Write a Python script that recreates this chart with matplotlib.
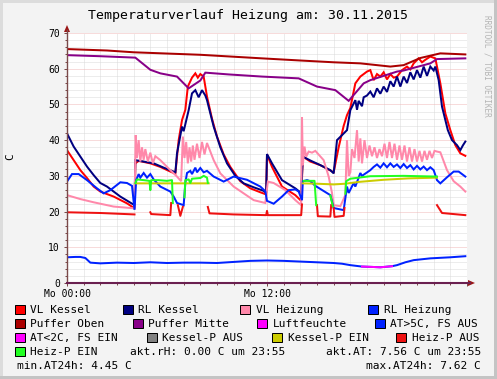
import matplotlib
matplotlib.use('Agg')
import matplotlib.pyplot as plt
import numpy as np
from matplotlib.patches import Rectangle, Polygon
from matplotlib.lines import Line2D

# ---------------- data (hour of day, value in C) ----------------
title = "Temperaturverlauf Heizung am: 30.11.2015"
x_tick_hours = [0, 12, 24]
x_tick_labels = ["Mo 00:00", "Mo 12:00", ""]
y_ticks = [0, 10, 20, 30, 40, 50, 60, 70]

vl_kessel = [(0, 37.2), (0.4, 34.4), (0.8, 31.6), (1.2, 29.4), (1.6, 27.0), (2.0, 25.6), (2.8, 24.2),
             (3.6, 22.3), (4.05, 20.9), (4.1, 33.5), (4.3, 34.2), (5.0, 33.5), (5.6, 32.5), (6.2, 31.2),
             (6.5, 30.6), (6.7, 40.0), (6.9, 45.6), (7.1, 48.5), (7.25, 55.0), (7.5, 57.5), (7.7, 58.7),
             (7.85, 57.5), (8.0, 58.5), (8.2, 57.8), (8.4, 52.2), (8.7, 46.0), (9.0, 41.0), (9.4, 36.0),
             (9.8, 32.5), (10.4, 28.5), (11.0, 26.5), (11.6, 25.4), (11.95, 24.8), (12.0, 36.0),
             (12.3, 32.5), (12.9, 27.0), (13.7, 24.6), (14.05, 23.0), (14.15, 35.4), (14.6, 34.0),
             (15.2, 33.0), (15.8, 31.5), (16.0, 31.0), (16.3, 38.0), (16.6, 44.0), (16.8, 47.0),
             (17.0, 49.0), (17.3, 55.9), (17.6, 57.8), (17.8, 58.5), (18.0, 59.2), (18.2, 59.6),
             (18.4, 56.8), (18.6, 58.5), (18.8, 57.8), (19.0, 59.0), (19.2, 57.0), (19.4, 58.5),
             (19.6, 57.5), (19.8, 57.8), (20.1, 59.6), (20.4, 60.6), (20.6, 59.8), (20.8, 61.5),
             (21.1, 62.9), (21.3, 61.8), (21.5, 62.5), (21.8, 63.4), (22.1, 62.9), (22.2, 60.6),
             (22.4, 55.9), (22.7, 47.5), (23.0, 42.8), (23.3, 38.6), (23.6, 36.3), (23.9, 35.6)]

rl_kessel = [(0, 41.9), (0.4, 38.2), (0.8, 35.4), (1.2, 32.6), (1.6, 30.2), (2.0, 28.0), (2.4, 27.0),
             (3.2, 24.2), (4.05, 21.8), (4.1, 34.4), (4.6, 34.0), (5.2, 33.5), (5.8, 32.3), (6.4, 31.2),
             (6.5, 30.8), (6.6, 36.3), (6.9, 43.8), (7.0, 42.5), (7.3, 48.4), (7.5, 53.1), (7.7, 54.0),
             (7.9, 52.0), (8.1, 54.0), (8.3, 52.5), (8.4, 51.2), (8.8, 43.8), (9.2, 38.0), (9.6, 33.5),
             (10.1, 30.0), (10.6, 27.9), (11.2, 26.8), (11.8, 25.8), (11.95, 25.2), (12.0, 36.1),
             (12.3, 33.5), (12.9, 28.8), (13.7, 26.5), (14.05, 25.2), (14.15, 35.4), (14.6, 34.3),
             (15.2, 33.0), (15.8, 31.6), (16.0, 30.7), (16.2, 40.0), (16.8, 42.8), (17.0, 48.4),
             (17.3, 51.2), (17.4, 48.5), (17.5, 51.0), (17.7, 49.5), (17.8, 52.0), (18.0, 52.5),
             (18.2, 53.6), (18.4, 52.0), (18.6, 54.5), (18.8, 53.0), (19.0, 55.0), (19.2, 53.5),
             (19.4, 56.5), (19.6, 55.0), (19.8, 57.8), (20.0, 55.0), (20.2, 57.8), (20.4, 56.0),
             (20.6, 59.0), (20.8, 57.0), (21.0, 59.6), (21.2, 57.5), (21.4, 60.6), (21.6, 58.0),
             (21.8, 60.6), (22.0, 59.5), (22.1, 60.6), (22.3, 56.8), (22.5, 49.4), (22.85, 42.8),
             (23.1, 40.0), (23.4, 38.6), (23.6, 37.2), (23.75, 38.5), (23.9, 39.6)]

vl_heizung = [(0, 24.6), (0.8, 23.5), (1.6, 22.6), (2.8, 21.4), (4.05, 20.9), (4.12, 41.4), (4.2, 35.0),
              (4.3, 40.0), (4.4, 34.0), (4.5, 38.0), (4.6, 34.5), (4.7, 37.5), (4.85, 34.0), (5.0, 36.5),
              (5.15, 33.5), (5.3, 35.5), (5.6, 34.4), (6.2, 31.6), (6.6, 29.8), (6.85, 28.5), (6.95, 41.0),
              (7.05, 35.0), (7.15, 39.5), (7.25, 33.5), (7.35, 38.0), (7.45, 34.0), (7.55, 38.5),
              (7.65, 34.5), (7.8, 39.0), (7.95, 35.0), (8.1, 39.5), (8.25, 36.0), (8.4, 39.2), (8.8, 34.4),
              (9.2, 30.7), (10.0, 27.0), (11.2, 23.2), (11.9, 22.4), (12.05, 28.4), (12.4, 28.0),
              (13.1, 26.0), (13.7, 23.2), (14.05, 21.8), (14.1, 46.4), (14.15, 33.0), (14.25, 38.2),
              (14.35, 35.4), (14.5, 36.8), (14.7, 36.5), (14.9, 37.0), (15.4, 34.4), (15.7, 29.8),
              (15.9, 25.2), (16.0, 21.8), (16.4, 21.5), (16.7, 24.6), (16.8, 40.0), (16.9, 30.0),
              (17.0, 31.0), (17.1, 37.5), (17.25, 35.0), (17.4, 42.8), (17.5, 34.0), (17.6, 40.5),
              (17.7, 33.5), (17.85, 40.0), (18.0, 35.0), (18.15, 38.5), (18.3, 35.5), (18.45, 38.0),
              (18.6, 35.0), (18.75, 37.5), (18.9, 35.5), (19.05, 39.0), (19.2, 35.0), (19.35, 39.5),
              (19.5, 35.0), (19.65, 39.0), (19.8, 34.5), (19.95, 38.5), (20.1, 34.5), (20.25, 38.5),
              (20.4, 34.0), (20.55, 38.0), (20.7, 34.0), (20.85, 37.5), (21.0, 34.0), (21.15, 37.0),
              (21.3, 34.0), (21.45, 37.0), (21.6, 34.5), (21.75, 37.0), (21.9, 35.0), (22.05, 37.0),
              (22.2, 36.8), (22.4, 36.6), (22.8, 31.6), (23.2, 28.5), (23.6, 27.0), (23.9, 25.6)]

rl_heizung = [(0, 28.4), (0.3, 30.5), (0.7, 30.5), (1.2, 28.8), (1.8, 26.5), (2.2, 25.1), (2.6, 26.0),
              (3.2, 28.2), (3.6, 28.0), (3.9, 27.2), (4.05, 20.5), (4.15, 28.8), (4.3, 30.5), (4.4, 29.5),
              (4.6, 30.8), (4.8, 29.5), (5.0, 30.5), (5.2, 29.0), (5.6, 27.0), (6.2, 25.6), (6.4, 24.2),
              (6.6, 22.4), (7.0, 21.8), (7.1, 28.0), (7.2, 30.8), (7.4, 31.4), (7.5, 30.5), (7.7, 32.3),
              (7.8, 31.0), (8.0, 32.2), (8.2, 31.0), (8.4, 31.4), (8.8, 29.8), (9.4, 28.4), (10.0, 29.8),
              (10.8, 28.9), (11.6, 27.0), (11.9, 25.7), (12.0, 23.0), (12.4, 22.2), (12.9, 24.2),
              (13.3, 26.0), (13.7, 26.2), (13.9, 25.6), (14.1, 23.2), (14.15, 28.5), (14.4, 28.8),
              (14.6, 28.5), (14.9, 27.2), (15.8, 24.6), (16.0, 21.0), (16.6, 20.4), (16.8, 27.0),
              (16.9, 25.2), (17.2, 28.0), (17.3, 27.0), (17.6, 30.8), (17.7, 30.0), (18.2, 31.6),
              (18.4, 32.5), (18.6, 33.2), (18.8, 32.3), (19.0, 33.5), (19.2, 32.4), (19.4, 33.5),
              (19.6, 32.5), (19.8, 33.2), (20.0, 32.2), (20.2, 33.3), (20.4, 32.2), (20.6, 33.0),
              (20.8, 31.8), (21.0, 32.8), (21.2, 31.8), (21.4, 32.6), (21.6, 31.6), (21.8, 32.4),
              (22.0, 31.6), (22.2, 28.8), (22.4, 27.9), (22.8, 29.6), (23.2, 31.2), (23.5, 31.2),
              (23.9, 29.8)]

puffer_oben = [(0, 65.5), (2.4, 65.1), (4.0, 64.6), (8.0, 63.9), (11.7, 62.9), (14.0, 62.3), (16.0, 61.8),
               (17.6, 61.5), (19.4, 60.6), (20.2, 61.0), (21.2, 63.0), (22.4, 64.3), (23.9, 64.0)]

puffer_mitte = [(0, 63.8), (2.0, 63.5), (4.1, 63.1), (5.0, 59.7), (5.6, 58.7), (6.6, 57.8), (7.3, 54.5),
                (8.0, 56.7), (8.3, 58.9), (9.7, 58.4), (11.7, 57.8), (13.9, 57.3), (15.0, 55.0),
                (16.1, 54.0), (16.9, 51.0), (17.8, 55.9), (18.2, 56.8), (19.8, 59.2), (20.2, 59.5),
                (21.8, 61.5), (22.2, 62.7), (23.9, 62.9)]

luftfeuchte = [(0, 0.0), (23.92, 0.0)]

aussentemp = [(0, 7.2), (0.5, 7.3), (0.8, 7.3), (1.1, 7.0), (1.4, 5.7), (2.0, 5.5), (3.0, 5.7), (4.0, 5.6),
              (5.0, 5.8), (6.0, 5.6), (7.0, 5.7), (8.0, 5.7), (9.0, 5.6), (10.0, 5.9), (11.0, 6.2),
              (12.0, 6.3), (13.0, 6.2), (14.0, 6.0), (15.0, 5.8), (16.0, 5.6), (16.5, 5.4), (17.0, 5.0),
              (17.7, 4.6), (18.3, 4.5), (18.8, 4.4), (19.5, 4.7), (19.8, 5.0), (20.3, 5.8), (20.8, 6.4),
              (21.8, 6.9), (23.0, 7.2), (23.9, 7.5)]
at_low_limit = 4.75

kessel_p_ein = [(4.15, 27.9), (8.5, 27.9), None, (14.15, 27.9), (15.0, 27.8), (16.0, 27.6), (16.7, 27.8),
                (17.5, 28.3), (19.0, 28.9), (20.5, 29.3), (22.2, 29.5)]

heiz_p_aus = [(0, 19.8), (2.0, 19.6), (4.05, 19.2), None, (5.0, 19.8), (5.05, 19.3), (6.2, 19.0), (6.25, 22.4),
              None, (6.65, 21.8), (6.8, 18.8), (6.95, 21.3), None, (8.45, 21.3), (8.55, 19.5), (10.0, 19.2),
              (11.95, 19.0), (12.0, 20.2), (12.05, 19.0), (14.05, 19.0), (14.1, 22.0), None, (15.0, 21.8),
              (15.05, 18.7), (15.8, 18.6), (15.85, 21.8), None, (16.0, 21.0), (16.05, 18.5), (16.6, 18.8),
              (16.65, 21.0), None, (22.2, 21.8), (22.5, 19.6), (23.9, 19.0)]

heiz_p_ein = [(4.1, 28.0), (4.2, 29.0), (4.6, 28.8), (4.95, 28.6), (5.0, 26.0), (5.05, 28.8), (5.5, 28.8),
              (6.0, 28.6), (6.3, 28.8), (6.35, 22.4), None, (7.05, 24.0), (7.1, 28.8), (7.3, 29.0),
              (7.4, 28.0), (7.5, 29.2), (8.0, 29.4), (8.2, 30.0), (8.4, 29.5), (8.45, 28.0), None,
              (14.2, 28.6), (14.85, 28.6), (14.95, 21.8), None, (15.8, 24.5), (15.95, 21.5), None,
              (16.7, 25.0), (16.75, 28.5), (17.0, 29.2), (17.5, 29.5), (18.2, 29.9), (20.2, 30.0),
              (22.2, 29.8)]

legend_labels = ["VL Kessel", "RL Kessel", "VL Heizung", "RL Heizung",
                 "Puffer Oben", "Puffer Mitte", "Luftfeuchte", "AT>5C, FS AUS",
                 "AT<2C, FS EIN", "Kessel-P AUS", "Kessel-P EIN", "Heiz-P AUS",
                 "Heiz-P EIN"]
legend_colors = ["#FF0000", "#000080", "#FF88AA", "#0022FF",
                 "#AA0000", "#880088", "#FF00FF", "#0022FF",
                 "#FF00FF", "#808080", "#CCCC00", "#EE1111",
                 "#22FF22"]
info_rh = "akt.rH: 0.00 C um 23:55"
info_at = "akt.AT: 7.56 C um 23:55"
info_min = "min.AT24h: 4.45 C"
info_max = "max.AT24h: 7.62 C"

# ---------------- helpers ----------------
def unzip(pairs):
    xs, ys = [], []
    for p in pairs:
        if p is None:
            xs.append(np.nan); ys.append(np.nan)
        else:
            xs.append(p[0]); ys.append(p[1])
    return np.array(xs, float), np.array(ys, float)

W, H = 497, 379
MONO = 'DejaVu Sans Mono'
fig = plt.figure(figsize=(W / 100, H / 100), dpi=100)
fig.patch.set_facecolor('#F3F3F3')

def fx(px): return px / W
def fy(py): return 1 - py / H

# frame shading
fig.add_artist(Rectangle((0, 0), fx(3), 1, transform=fig.transFigure, facecolor='#DCDCDC', edgecolor='none'))
fig.add_artist(Rectangle((0, fy(3)), 1, 3 / H, transform=fig.transFigure, facecolor='#DCDCDC', edgecolor='none'))
fig.add_artist(Rectangle((fx(494), 0), 3 / W, 1, transform=fig.transFigure, facecolor='#C4C4C4', edgecolor='none'))
fig.add_artist(Rectangle((0, 0), 1, 3 / H, transform=fig.transFigure, facecolor='#C4C4C4', edgecolor='none'))

ax = fig.add_axes([fx(67), fy(283), 400 / W, 250 / H])
ax.set_facecolor('white')
ax.set_xlim(0, 24)
ax.set_ylim(0, 70)
for s in ax.spines.values():
    s.set_visible(False)

ax.set_xticks(x_tick_hours)
ax.set_xticklabels(x_tick_labels, fontfamily=MONO, fontsize=7)
ax.set_xticks(np.arange(0, 25, 1), minor=True)
ax.set_yticks(y_ticks)
ax.set_yticklabels([str(v) for v in y_ticks], fontfamily=MONO, fontsize=7)
ax.set_yticks(np.arange(0, 71, 2), minor=True)
ax.grid(which='minor', color='#DADADA', linestyle=(0, (1, 1)), linewidth=0.72)
ax.grid(which='major', color='#F0B8B8', linestyle=(0, (1, 1)), linewidth=0.72)
ax.set_axisbelow(True)
axis_col = '#7A4A4A'
ax.tick_params(axis='y', which='major', length=2, width=0.72, color=axis_col, pad=3.2)
ax.tick_params(axis='y', which='minor', length=1.2, width=0.72, color=axis_col)
ax.tick_params(axis='x', which='major', length=2, width=0.72, color=axis_col, pad=2.2)
ax.tick_params(axis='x', which='minor', length=1.2, width=0.72, color=axis_col)

LW = 1.44
series = [(vl_kessel, legend_colors[0]), (rl_kessel, legend_colors[1]),
          (vl_heizung, legend_colors[2]), (rl_heizung, legend_colors[3]),
          (puffer_oben, legend_colors[4]), (puffer_mitte, legend_colors[5]),
          (luftfeuchte, legend_colors[6])]
for pairs, col in series:
    xs, ys = unzip(pairs)
    ax.plot(xs, ys, color=col, lw=LW, solid_joinstyle='miter', zorder=3)

ath, atv = unzip(aussentemp)
ax.plot(ath, atv, color=legend_colors[7], lw=LW, zorder=3)
ax.plot(ath, np.where(atv < at_low_limit, atv, np.nan), color=legend_colors[8], lw=LW, zorder=3)

for pairs, col in [(kessel_p_ein, legend_colors[10]), (heiz_p_aus, legend_colors[11]),
                   (heiz_p_ein, legend_colors[12])]:
    xs, ys = unzip(pairs)
    ax.plot(xs, ys, color=col, lw=LW, zorder=3)

# axes lines and arrows
fig.add_artist(Line2D([fx(67), fx(67)], [fy(283), fy(30)], transform=fig.transFigure, color=axis_col, lw=1.0))
fig.add_artist(Line2D([fx(67), fx(470)], [fy(283), fy(283)], transform=fig.transFigure, color='#6A2050', lw=1.5))
fig.add_artist(Polygon([[fx(64), fy(32)], [fx(70), fy(32)], [fx(67), fy(25)]], closed=True,
                       transform=fig.transFigure, facecolor='#9A1515', edgecolor='none'))
fig.add_artist(Polygon([[fx(468), fy(280)], [fx(468), fy(286)], [fx(475), fy(283)]], closed=True,
                       transform=fig.transFigure, facecolor='#9A1515', edgecolor='none'))

# title, labels, watermark
fig.text(fx(248), fy(18.5), title, fontfamily=MONO, fontsize=9.5, ha='center', va='baseline')
fig.text(fx(10.5), fy(157), "C", fontfamily=MONO, fontsize=8, rotation=90, ha='center', va='center')
fig.text(fx(487.5), fy(15), "RRDTOOL / TOBI OETIKER", fontfamily=MONO, fontsize=5.6, rotation=270,
         ha='center', va='top', color='#B4B4B4')

# legend
box_x = [[15, 123, 240, 368], [15, 133, 257, 375], [15, 147, 272, 396], [15]]
baselines = [313, 327, 341, 355]
k = 0
for r, xs_row in enumerate(box_x):
    for bx in xs_row:
        bl = baselines[r]
        fig.add_artist(Rectangle((fx(bx), fy(bl + 0.5)), 10 / W, 9 / H, transform=fig.transFigure,
                                 facecolor=legend_colors[k], edgecolor='black', lw=0.72))
        fig.text(fx(bx + 15.5), fy(bl), legend_labels[k], fontfamily=MONO, fontsize=8,
                 ha='left', va='baseline')
        k += 1
fig.text(fx(130), fy(355), info_rh, fontfamily=MONO, fontsize=8, ha='left', va='baseline')
fig.text(fx(481), fy(355), info_at, fontfamily=MONO, fontsize=8, ha='right', va='baseline')
fig.text(fx(16.7), fy(369), info_min, fontfamily=MONO, fontsize=8, ha='left', va='baseline')
fig.text(fx(481), fy(369), info_max, fontfamily=MONO, fontsize=8, ha='right', va='baseline')

fig.savefig('out.png', dpi=100, facecolor=fig.get_facecolor())
